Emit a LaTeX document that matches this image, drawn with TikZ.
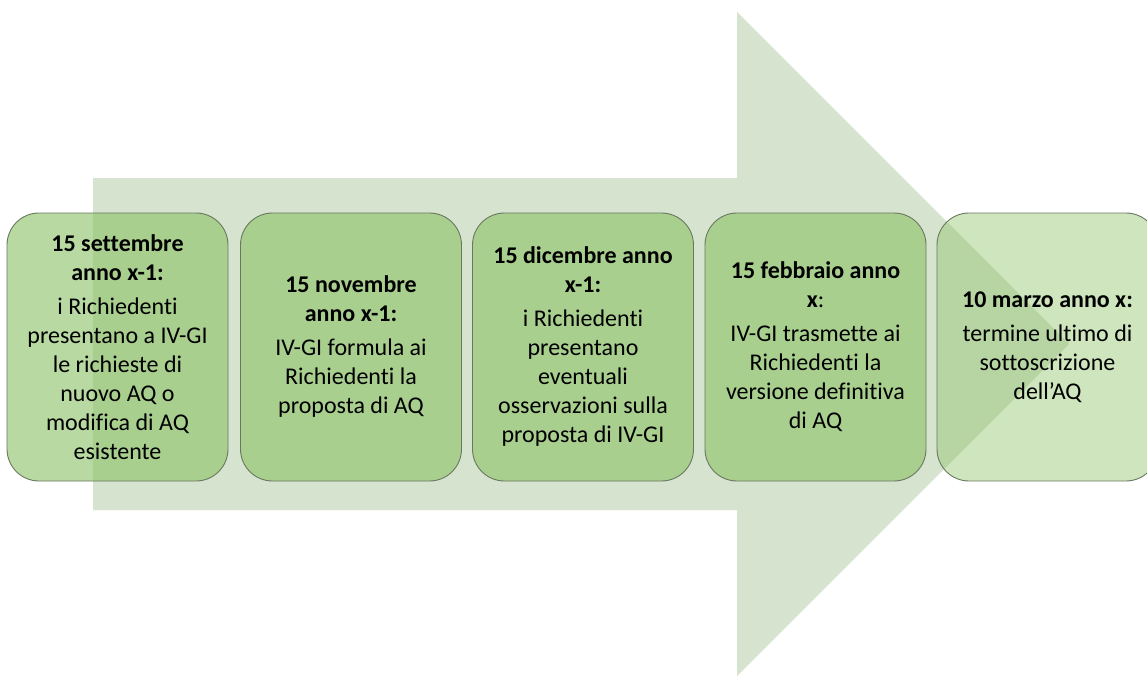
\documentclass[tikz,border=0pt]{standalone}
\usepackage{fontspec}
\setmainfont{Carlito}[Ligatures=NoCommon]
\definecolor{arrowgreen}{RGB}{213,227,207}
\definecolor{boxgreen}{RGB}{146,197,110}
\definecolor{boxline}{RGB}{105,120,95}
\begin{document}
\begin{tikzpicture}[x=1pt,y=-1pt,
  stepbox/.style={draw=boxline, line width=0.9pt, fill=boxgreen, fill opacity=0.65, text opacity=1,
    rounded corners=32pt, minimum width=221pt, minimum height=268pt, align=center,
    font=\fontsize{24}{29}\selectfont, inner sep=2pt},
  lastbox/.style={stepbox, fill opacity=0.45}]
\useasboundingbox (0,0) rectangle (1147,677);
\begin{scope}
\clip (0,0) rectangle (1147,677);
% big arrow
\fill[arrowgreen] (93,178) -- (737,178) -- (737,12) -- (1069,344) -- (737,676) -- (737,510) -- (93,510) -- cycle;

\node[stepbox] (b1) at (117.5,347) {\textbf{15 settembre}\\\textbf{anno x-1:}\\[5pt]i Richiedenti\\presentano a IV-GI\\le richieste di\\nuovo AQ o\\modifica di AQ\\esistente};
\node[stepbox] (b2) at (351,347) {\textbf{15 novembre}\\\textbf{anno x-1:}\\[5pt]IV-GI formula ai\\Richiedenti la\\proposta di AQ};
\node[stepbox] (b3) at (583,347) {\textbf{15 dicembre anno}\\\textbf{x-1:}\\[5pt]i Richiedenti\\presentano\\eventuali\\osservazioni sulla\\proposta di IV-GI};
\node[stepbox] (b4) at (815.5,347) {\textbf{15 febbraio anno}\\\textbf{x}:\\[5pt]IV-GI trasmette ai\\Richiedenti la\\versione definitiva\\di AQ};
\node[lastbox] (b5) at (1047.5,347) {\textbf{10 marzo anno x:}\\[5pt]termine ultimo di\\sottoscrizione\\dell’AQ};
\end{scope}
\end{tikzpicture}
\end{document}
